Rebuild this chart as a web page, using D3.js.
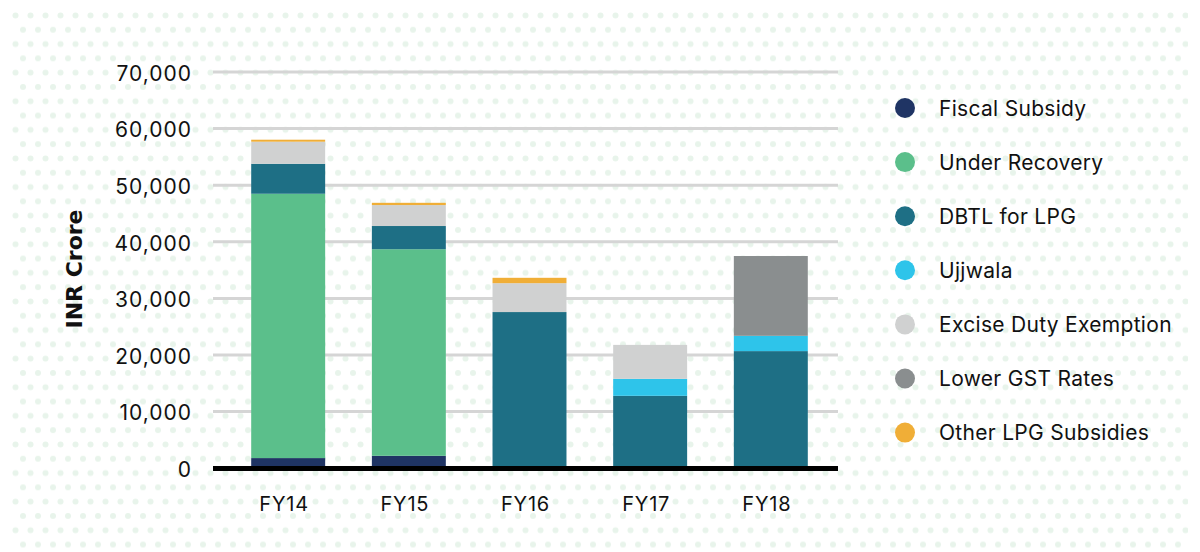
<!DOCTYPE html>
<html>
<head>
<meta charset="utf-8">
<script src="https://cdn.jsdelivr.net/npm/d3@7"></script>
<style>
  html, body { margin: 0; padding: 0; background: #ffffff; }
  #chart { width: 1200px; height: 552px; }
  text { font-family: Inter, "Noto Sans", sans-serif; fill: #111; }
</style>
</head>
<body>
<div id="chart"></div>
<script>
// data (INR crore)
const years = ["FY14", "FY15", "FY16", "FY17", "FY18"];
const seriesNames = ["Fiscal Subsidy", "Under Recovery", "DBTL for LPG", "Ujjwala",
    "Excise Duty Exemption", "Lower GST Rates", "Other LPG Subsidies"];
const fiscalSubsidy = [1700, 2100, 0, 0, 0];
const underRecovery = [46700, 36500, 0, 0, 0];
const dbtlForLpg = [5300, 4100, 27500, 12700, 20600];
const ujjwala = [0, 0, 0, 3000, 2700];
const exciseDuty = [3900, 3700, 5100, 6000, 0];
const lowerGst = [0, 0, 0, 0, 14100];
const otherLpg = [350, 400, 950, 0, 0];
const yTicks = [0, 10000, 20000, 30000, 40000, 50000, 60000, 70000];

const seriesColors = ["#1f3464", "#5bbf8b", "#1e6f85", "#2ec4ea", "#d0d1d1", "#8a8e8f", "#f0ae37"];
const allSeries = [fiscalSubsidy, underRecovery, dbtlForLpg, ujjwala, exciseDuty, lowerGst, otherLpg];

// table for d3.stack
const table = years.map((yr, i) => {
    const row = { year: yr };
    seriesNames.forEach((s, j) => row[s] = allSeries[j][i]);
    return row;
});

const width = 1200, height = 552;

const svg = d3.select('#chart')
    .append('svg')
    .attr('width', width)
    .attr('height', height);

// dotted background
const defs = svg.append('defs');
const pat = defs.append('pattern')
    .attr('id', 'dots')
    .attr('patternUnits', 'userSpaceOnUse')
    .attr('x', 12).attr('y', 12)
    .attr('width', 15)
    .attr('height', 28.6);
pat.append('circle').attr('cx', 3.5).attr('cy', 3.5).attr('r', 3).attr('fill', '#e8f4eb');
pat.append('circle').attr('cx', 11).attr('cy', 17.8).attr('r', 3).attr('fill', '#e8f4eb');

svg.append('rect')
    .attr('x', 12).attr('y', 12)
    .attr('width', width - 24).attr('height', height - 12)
    .attr('fill', 'url(#dots)');

const x = d3.scaleBand()
    .domain(years)
    .range([215, 844])
    .paddingInner(0.387)
    .paddingOuter(0.3);

const y = d3.scaleLinear()
    .domain([0, 70000])
    .range([467.7, 71.5]);

const gridLeft = 213, gridRight = 838;

// gridlines + y labels
const yAxis = svg.append('g')
    .attr('transform', `translate(${gridLeft},0)`)
    .call(d3.axisLeft(y)
        .tickValues(yTicks)
        .tickFormat(d3.format(','))
        .tickSize(-(gridRight - gridLeft))
        .tickPadding(21));
yAxis.select('.domain').remove();
yAxis.selectAll('line')
    .attr('stroke', '#d5d5d5')
    .attr('stroke-width', 3);
yAxis.selectAll('text')
    .attr('dy', '0.42em')
    .style('font-size', '21px')
    .style('letter-spacing', '1px')
    .style('font-family', 'Inter, sans-serif')
    .attr('fill', '#111');

// stacked bars
const stack = d3.stack().keys(seriesNames);
const layers = stack(table);

svg.append('g')
    .selectAll('g')
    .data(layers)
    .join('g')
    .attr('fill', (d, i) => seriesColors[i])
    .selectAll('rect')
    .data(d => d.filter(p => p[1] > p[0]))
    .join('rect')
    .attr('x', d => x(d.data.year))
    .attr('width', x.bandwidth())
    .attr('y', d => y(d[1]))
    .attr('height', d => y(d[0]) - y(d[1]));

// black baseline
svg.append('line')
    .attr('x1', gridLeft).attr('x2', gridRight)
    .attr('y1', y(0) + 0.8).attr('y2', y(0) + 0.8)
    .attr('stroke', '#000')
    .attr('stroke-width', 5);

// x labels
const xAxis = svg.append('g')
    .attr('transform', `translate(0,${y(0)})`)
    .call(d3.axisBottom(x).tickSize(0).tickPadding(29));
xAxis.select('.domain').remove();
xAxis.selectAll('text')
    .style('font-size', '20px')
    .style('letter-spacing', '0.8px')
    .style('font-family', 'Inter, sans-serif')
    .attr('fill', '#111')
    .attr('dx', '-4');

// y title
svg.append('text')
    .attr('transform', 'translate(82,269) rotate(-90)')
    .attr('text-anchor', 'middle')
    .style('font-family', '"DejaVu Sans", sans-serif')
    .style('font-size', '22px')
    .style('font-weight', 'bold')
    .text('INR Crore');

// legend
const legend = svg.append('g')
    .selectAll('g')
    .data(seriesNames)
    .join('g')
    .attr('transform', (d, i) => `translate(905,${108 + i * 54.1})`);
legend.append('circle')
    .attr('r', 10)
    .attr('fill', (d, i) => seriesColors[i]);
legend.append('text')
    .attr('x', 34)
    .attr('dy', '0.36em')
    .style('font-size', '21px')
    .style('letter-spacing', '0.3px')
    .text(d => d);
</script>
</body>
</html>
